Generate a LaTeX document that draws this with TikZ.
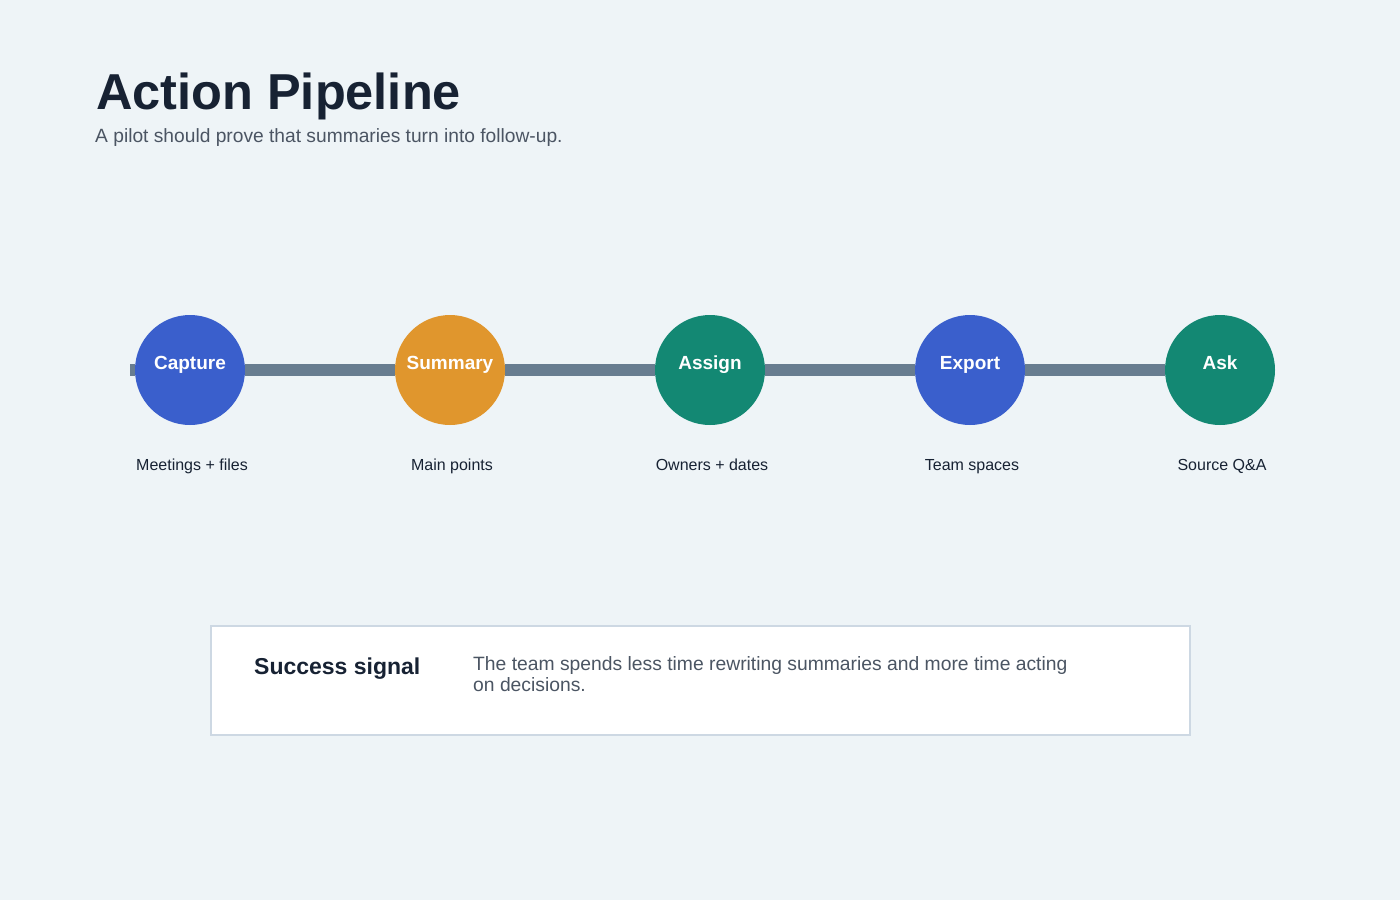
\documentclass[tikz,border=0pt]{standalone}
\usepackage{fontspec}
\setmainfont{Liberation Sans}
\definecolor{pagebg}{HTML}{EEF4F7}
\definecolor{inkdark}{HTML}{172233}
\definecolor{inkgray}{HTML}{4B5563}
\definecolor{railgray}{HTML}{687D90}
\definecolor{royalblue}{HTML}{3A5FCC}
\definecolor{amber}{HTML}{E0962D}
\definecolor{teal}{HTML}{138873}
\definecolor{cardedge}{HTML}{CDD8E3}
\usetikzlibrary{positioning}
\tikzset{
  stage/.style={circle, fill=#1, minimum size=110pt, inner sep=0pt},
  stagetext/.style={anchor=base, font=\fontsize{19}{22}\selectfont\bfseries, text=white, inner sep=0pt},
  note/.style={anchor=base, font=\fontsize{16}{19}\selectfont, text=inkdark, inner sep=0pt},
  rail/.style={draw=railgray, line width=12pt},
  card/.style={draw=cardedge, fill=white, line width=1.5pt},
}

\begin{document}
\begin{tikzpicture}[x=1pt, y=-1pt]
\useasboundingbox[fill=pagebg] (0,0) rectangle (1400,900);

% heading
\node[anchor=base west, inner sep=0pt, font=\fontsize{50.5}{58}\selectfont\bfseries, text=inkdark] (title) at (96,109) {Action Pipeline};
\node[anchor=base west, inner sep=0pt, font=\fontsize{19.2}{22}\selectfont, text=inkgray] (subtitle) at (95,142) {A pilot should prove that summaries turn into follow-up.};

% pipeline stages
\coordinate (railstart) at (130,370);
\node[stage=royalblue] (cap) at (190,370) {};
\node[stage=amber] (sum) at (450,370) {};
\node[stage=teal] (asg) at (710,370) {};
\node[stage=royalblue] (exp) at (970,370) {};
\node[stage=teal] (ask) at (1220,370) {};
\draw[rail] (railstart) -- (cap.west);
\draw[rail] (cap) -- (sum);
\draw[rail] (sum) -- (asg);
\draw[rail] (asg) -- (exp);
\draw[rail] (exp) -- (ask);

\node[stagetext] at ([yshift=1pt]cap.center) {Capture};
\node[stagetext] at ([yshift=1pt]sum.center) {Summary};
\node[stagetext] at ([yshift=1pt]asg.center) {Assign};
\node[stagetext] at ([yshift=1pt]exp.center) {Export};
\node[stagetext] at ([yshift=1pt]ask.center) {Ask};

\node[note] (capnote) at ([xshift=2pt, yshift=-100pt]cap.center) {Meetings + files};
\node[note] (sumnote) at ([xshift=2pt, yshift=-100pt]sum.center) {Main points};
\node[note] (asgnote) at ([xshift=2pt, yshift=-100pt]asg.center) {Owners + dates};
\node[note] (expnote) at ([xshift=2pt, yshift=-100pt]exp.center) {Team spaces};
\node[note] (asknote) at ([xshift=2pt, yshift=-100pt]ask.center) {Source Q\&A};

% success card
\draw[card] (211,626) rectangle (1190,735);
\node[anchor=base west, inner sep=0pt, font=\fontsize{23}{26}\selectfont\bfseries, text=inkdark] (signal) at (254,674) {Success signal};
\node[anchor=base west, inner sep=0pt, font=\fontsize{19.3}{21}\selectfont, text=inkgray, align=left] (signaltext) at (473,691) {The team spends less time rewriting summaries and more time acting\\on decisions.};
\end{tikzpicture}
\end{document}
